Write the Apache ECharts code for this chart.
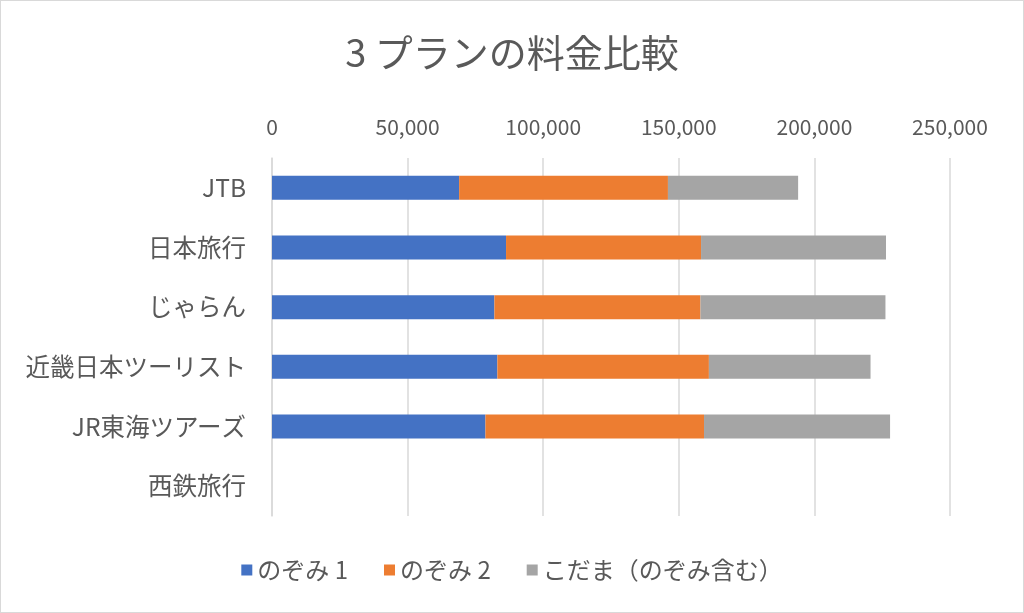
<!DOCTYPE html>
<html>
<head>
<meta charset="utf-8">
<script src="https://cdn.jsdelivr.net/npm/echarts@6/dist/echarts.min.js"></script>
<style>
html,body{margin:0;padding:0;background:#fff;}
#wrap{position:absolute;left:0;top:0;width:1022px;height:611px;border:1px solid #d9d9d9;}
#chart{width:1022px;height:611px;}
</style>
</head>
<body>
<div id="wrap"><div id="chart"></div></div>
<script>
const titleText = '3 プランの料金比較';
const categories = ['JTB', '日本旅行', 'じゃらん', '近畿日本ツーリスト', 'JR東海ツアーズ', '西鉄旅行'];
const seriesNames = ['のぞみ 1', 'のぞみ 2', 'こだま（のぞみ含む）'];
const nozomi1 = [69000, 86300, 82000, 83100, 78700, null];
const nozomi2 = [77000, 71900, 76000, 78000, 80600, null];
const kodama = [48000, 68200, 68200, 59600, 68600, null];
const colors = ['#4472C4', '#ED7D31', '#A5A5A5'];
const xMin = 0, xMax = 250000, xInterval = 50000;

const FONT = '"Noto Sans CJK JP", "Noto Sans", sans-serif';
const chart = echarts.init(document.getElementById('chart'));
const values = [nozomi1, nozomi2, kodama];
chart.setOption({
  animation: false,
  textStyle: { fontFamily: FONT },
  title: {
    text: titleText, left: 'center', top: 28,
    textStyle: { fontSize: 38, fontWeight: 'normal', color: '#595959', fontFamily: FONT }
  },
  legend: {
    bottom: 25, left: 'center', itemWidth: 11, itemHeight: 11, itemGap: 36,
    icon: 'rect',
    textStyle: { fontSize: 24, color: '#595959', fontFamily: FONT },
    data: seriesNames
  },
  grid: { left: 271, right: 73, top: 157, bottom: 96, containLabel: false },
  xAxis: {
    type: 'value', position: 'top', min: xMin, max: xMax, interval: xInterval,
    axisLine: { show: false }, axisTick: { show: false },
    splitLine: { lineStyle: { color: '#d9d9d9', width: 1.5 } },
    axisLabel: {
      margin: 20, fontSize: 21, color: '#595959', fontFamily: FONT,
      formatter: v => v.toLocaleString('en-US')
    }
  },
  yAxis: {
    type: 'category', inverse: true, data: categories,
    axisLine: { show: true, lineStyle: { color: '#d9d9d9', width: 1.5 } },
    axisTick: { show: false },
    axisLabel: { margin: 26, fontSize: 24.5, color: '#595959', fontFamily: FONT }
  },
  series: seriesNames.map((n, i) => ({
    name: n, type: 'bar', stack: 'total', barWidth: 24,
    itemStyle: { color: colors[i] },
    data: values[i]
  }))
});
</script>
</body>
</html>
